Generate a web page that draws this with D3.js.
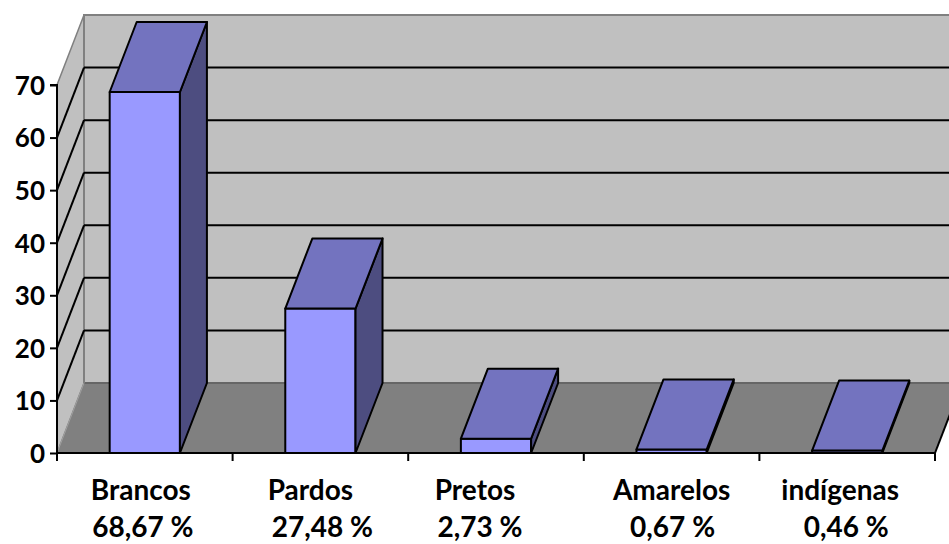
<!DOCTYPE html>
<html><head><meta charset="utf-8">
<script src="https://cdn.jsdelivr.net/npm/d3@7"></script>
<style>html,body{margin:0;padding:0;background:#fff;overflow:hidden}</style>
</head><body>
<svg id="c" width="949" height="544"></svg>
<script>
const categories = ["Brancos", "Pardos", "Pretos", "Amarelos", "indígenas"];
const values = [68.67, 27.48, 2.73, 0.67, 0.46];
const valueLabels = ["68,67 %", "27,48 %", "2,73 %", "0,67 %", "0,46 %"];
const yTicks = [0, 10, 20, 30, 40, 50, 60, 70];

// layout (not data)
const nameShift = [-4, -10, -21, 0, -7];
const valShift = [-2, 2, -16, 1, -1];

const svg = d3.select("#c");
const W = 949, H = 544;
const X0 = 57, X1 = 935, DX = 27, DY = -70;
const x = d3.scaleBand().domain(categories).range([X0, X1]).paddingInner(0.6).paddingOuter(0.3);
const y = d3.scaleLinear().domain([0, 70]).range([453, 85]);
const step = x.step();
const font = "Lato, 'Open Sans', sans-serif";
const FS = 28;

const pts = a => a.map(p => p.join(",")).join(" ");
const g = svg.append("g");
svg.append("defs").append("clipPath").attr("id","cl").append("rect").attr("width",W).attr("height",H);
g.attr("clip-path","url(#cl)");

// back wall
g.append("polygon").attr("points", pts([[X0+DX, y(0)+DY],[X1+DX, y(0)+DY],[X1+DX, y(70)+DY],[X0+DX, y(70)+DY]]))
  .attr("fill", "#c0c0c0").attr("stroke", "#808080").attr("stroke-width", 2);
// left wall
g.append("polygon").attr("points", pts([[X0, y(0)],[X0+DX, y(0)+DY],[X0+DX, y(70)+DY],[X0, y(70)]]))
  .attr("fill", "#c0c0c0").attr("stroke", "#808080").attr("stroke-width", 1.5);
// floor
g.append("polygon").attr("points", pts([[X0, y(0)],[X1, y(0)],[X1+DX, y(0)+DY],[X0+DX, y(0)+DY]]))
  .attr("fill", "#808080");
g.append("line").attr("x1", X0+DX).attr("x2", X1+DX).attr("y1", y(0)+DY).attr("y2", y(0)+DY)
  .attr("stroke", "#666").attr("stroke-width", 2);
g.append("line").attr("x1", X0).attr("y1", y(0)).attr("x2", X0+DX).attr("y2", y(0)+DY)
  .attr("stroke", "#a0a0a0").attr("stroke-width", 1);
g.append("line").attr("x1", X0+DX).attr("x2", X0+DX).attr("y1", y(0)+DY).attr("y2", y(70)+DY)
  .attr("stroke", "#808080").attr("stroke-width", 2);

// gridlines
const gl = yTicks.filter(v => v > 0 && v < 70);
g.selectAll(".gb").data(gl).join("line")
  .attr("x1", X0+DX).attr("x2", X1+DX).attr("y1", d => y(d)+DY).attr("y2", d => y(d)+DY)
  .attr("stroke", "#000").attr("stroke-width", 2);
g.selectAll(".gs").data(gl).join("line")
  .attr("x1", X0).attr("x2", X0+DX).attr("y1", d => y(d)).attr("y2", d => y(d)+DY)
  .attr("stroke", "#000").attr("stroke-width", 2);

// bars
const bars = g.selectAll(".bar").data(categories.map((c, i) => ({c, v: values[i]}))).join("g");
bars.append("rect")
  .attr("x", d => x(d.c)).attr("width", x.bandwidth())
  .attr("y", d => y(d.v)).attr("height", d => y(0) - y(d.v))
  .attr("fill", "#9999ff").attr("stroke", "#000").attr("stroke-width", 2).attr("stroke-linejoin","round");
bars.append("polygon")
  .attr("points", d => { const a = x(d.c), b = a + x.bandwidth(); return pts([[b, y(d.v)],[b+DX, y(d.v)+DY],[b+DX, y(0)+DY],[b, y(0)]]); })
  .attr("fill", "#4d4d80").attr("stroke", "#000").attr("stroke-width", 2).attr("stroke-linejoin","round");
bars.append("polygon")
  .attr("points", d => { const a = x(d.c), b = a + x.bandwidth(), t = y(d.v); return pts([[a, t],[b, t],[b+DX, t+DY],[a+DX, t+DY]]); })
  .attr("fill", "#7373bf").attr("stroke", "#000").attr("stroke-width", 2).attr("stroke-linejoin","round");

// floor right edge
g.append("line").attr("x1", X1).attr("y1", y(0)).attr("x2", X1+DX).attr("y2", y(0)+DY)
  .attr("stroke", "#000").attr("stroke-width", 2);

// y axis
const ya = svg.append("g").attr("transform", `translate(${X0},0)`)
  .call(d3.axisLeft(y).tickValues(yTicks).tickSize(7).tickPadding(5).tickFormat(d3.format("d")));
ya.select(".domain").attr("stroke", "#000").attr("stroke-width", 2).attr("d", `M-7,${y(70)}H0V${y(0)}`);
ya.selectAll(".tick line").attr("stroke", "#000").attr("stroke-width", 2);
ya.selectAll(".tick text").attr("font-family", font).attr("font-weight", "bold").attr("font-size", 26).attr("fill", "#000").attr("dy", "0.36em");

// x axis
const xa = svg.append("g");
xa.append("line").attr("x1", X0).attr("x2", X1).attr("y1", y(0)).attr("y2", y(0)).attr("stroke", "#000").attr("stroke-width", 2);
xa.selectAll(".xt").data(d3.range(categories.length + 1)).join("line")
  .attr("x1", i => X0 + i * step).attr("x2", i => X0 + i * step)
  .attr("y1", y(0)).attr("y2", y(0) + 8).attr("stroke", "#000").attr("stroke-width", 2);
xa.selectAll(".xl").data(categories).join("text")
  .attr("x", (d, i) => x(d) + x.bandwidth() / 2 + nameShift[i]).attr("y", 500)
  .attr("text-anchor", "middle").attr("font-family", font).attr("font-weight", "bold").attr("font-size", FS)
  .text(d => d);
xa.selectAll(".xv").data(valueLabels).join("text")
  .attr("x", (d, i) => x(categories[i]) + x.bandwidth() / 2 + valShift[i]).attr("y", 537)
  .attr("text-anchor", "middle").attr("font-family", font).attr("font-weight", "bold").attr("font-size", FS)
  .text(d => d);
</script>
</body></html>
